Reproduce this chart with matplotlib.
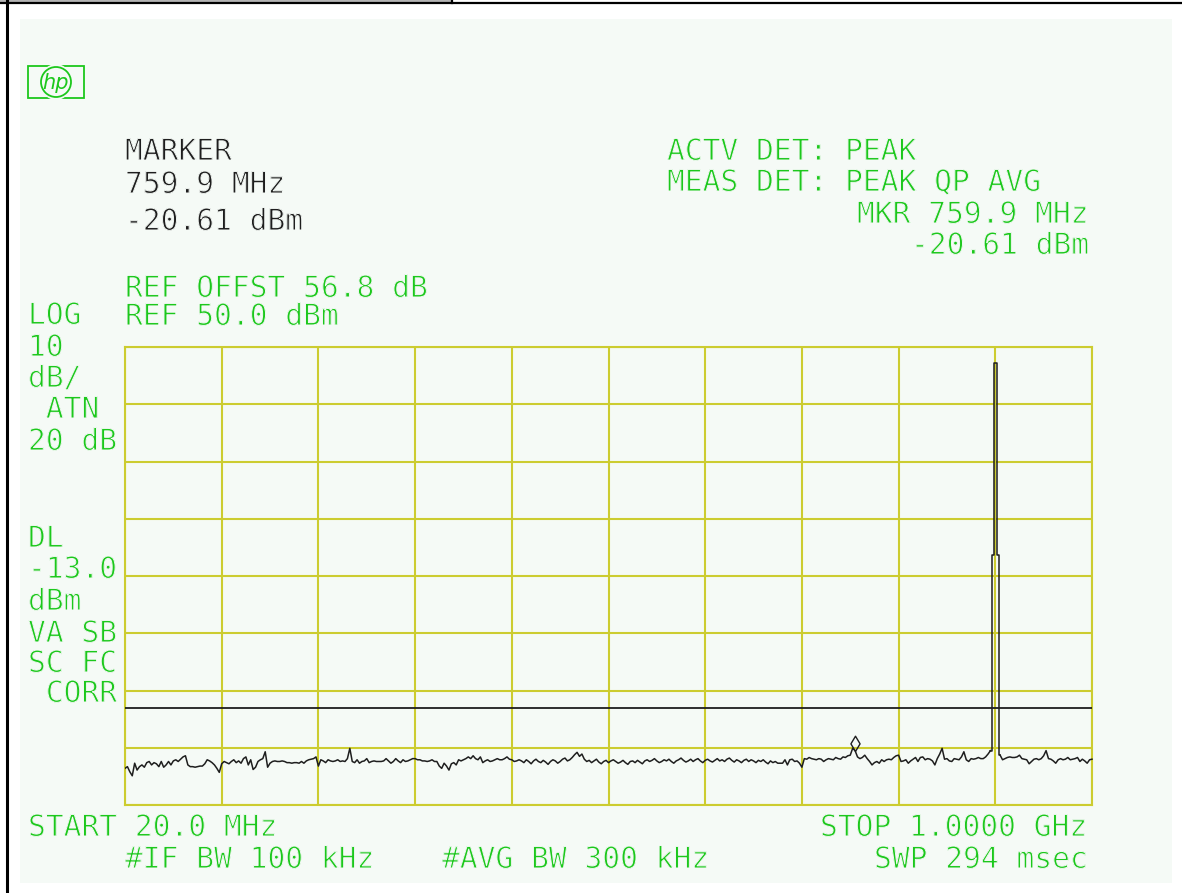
import numpy as np
import matplotlib
matplotlib.use("Agg")
import matplotlib.pyplot as plt
import matplotlib.patheffects as pe
from matplotlib.patches import Rectangle, Ellipse
from matplotlib.lines import Line2D

# analyzer settings
start_mhz = 20.0
stop_mhz = 1000.0
ref_dbm = 50.0
db_per_div = 10
display_line_dbm = -13.0
marker_mhz = 759.9
marker_dbm = -20.61

# trace, 401 points from START to STOP (dBm)
level_dbm = [
    -23.6, -23.3, -24.2, -24.9, -22.7, -23.9, -23.3, -23.0, -23.4, -22.6, -22.4, -23.0, -22.6, -22.8, -23.3, -22.4, -23.4, -23.0, -22.4, -23.0,
    -22.3, -22.1, -22.4, -22.0, -21.6, -21.4, -23.0, -23.3, -23.3, -23.4, -23.3, -23.2, -23.2, -22.8, -22.1, -22.3, -22.6, -23.0, -23.6, -24.3,
    -22.8, -22.4, -22.6, -22.8, -22.4, -22.1, -22.6, -22.3, -22.7, -21.9, -21.6, -23.0, -22.1, -23.8, -23.4, -22.4, -22.1, -21.9, -20.7, -23.4,
    -22.7, -22.4, -22.3, -22.4, -22.4, -22.3, -22.4, -22.6, -22.6, -22.7, -22.6, -22.6, -22.7, -22.4, -22.7, -22.3, -22.1, -22.0, -21.9, -21.6,
    -23.2, -22.1, -22.3, -22.6, -22.1, -22.3, -22.4, -22.3, -22.1, -22.4, -22.3, -22.4, -21.9, -20.1, -22.4, -22.6, -22.1, -22.7, -22.4, -22.3,
    -21.9, -22.6, -22.4, -22.3, -22.4, -22.4, -22.4, -22.3, -21.9, -22.3, -22.7, -22.4, -21.9, -22.3, -22.6, -22.1, -22.4, -22.3, -22.1, -21.9,
    -21.9, -22.1, -22.1, -22.3, -22.3, -22.4, -22.3, -22.1, -22.4, -22.4, -23.2, -23.6, -22.7, -23.2, -23.9, -22.8, -22.6, -23.0, -22.1, -22.3,
    -22.1, -21.9, -21.6, -21.9, -21.4, -21.9, -22.1, -21.6, -22.6, -22.3, -22.1, -22.4, -22.3, -22.1, -21.9, -22.1, -22.1, -21.9, -21.6, -22.0,
    -22.1, -22.4, -22.3, -22.1, -22.3, -22.6, -22.1, -22.4, -22.8, -22.3, -22.0, -22.4, -22.6, -22.2, -22.5, -22.9, -22.4, -22.1, -22.3, -22.7,
    -22.4, -22.0, -21.8, -22.3, -22.1, -21.7, -21.2, -20.8, -21.5, -21.1, -22.0, -22.4, -22.2, -22.6, -22.3, -22.0, -22.5, -22.8, -22.4, -22.2,
    -22.6, -22.3, -22.1, -22.4, -22.7, -22.5, -22.2, -22.6, -22.9, -22.4, -22.3, -22.6, -22.2, -22.5, -22.8, -22.3, -22.1, -22.4, -22.2, -21.9,
    -22.3, -22.6, -22.4, -22.1, -22.3, -22.0, -22.4, -22.7, -22.3, -22.1, -21.8, -22.2, -22.5, -22.3, -22.0, -22.4, -22.1, -21.9, -22.3, -22.6,
    -22.2, -22.0, -22.3, -22.5, -22.2, -21.9, -22.3, -22.1, -22.4, -22.0, -21.8, -22.2, -22.5, -22.1, -22.3, -22.6, -22.2, -22.0, -22.4, -22.1,
    -22.3, -22.6, -22.2, -22.4, -22.1, -22.5, -22.8, -22.3, -22.6, -22.4, -22.7, -22.7, -22.7, -22.1, -23.0, -22.1, -22.0, -22.4, -22.3, -22.7,
    -23.4, -21.9, -22.0, -21.7, -21.9, -22.0, -22.1, -21.9, -22.0, -22.4, -22.1, -21.9, -22.0, -22.1, -21.7, -21.9, -22.0, -21.6, -21.7, -21.4,
    -21.3, -20.1, -20.5, -21.6, -21.9, -21.7, -21.3, -21.9, -22.4, -23.0, -22.6, -22.4, -22.7, -22.1, -22.4, -22.1, -22.0, -22.1, -21.7, -21.4,
    -21.3, -22.4, -22.3, -22.1, -22.7, -22.3, -22.0, -21.7, -22.4, -21.7, -21.6, -22.1, -21.9, -22.0, -22.3, -23.0, -21.9, -21.1, -20.1, -22.0,
    -21.9, -22.3, -22.4, -21.9, -22.0, -22.1, -21.6, -20.7, -22.1, -22.4, -21.9, -22.0, -21.9, -21.7, -21.9, -21.9, -21.6, -21.1, -20.5, 13.7,
    47.2, 13.7, -21.3, -22.1, -21.9, -21.7, -21.6, -21.7, -21.7, -21.6, -21.3, -21.9, -22.0, -22.1, -22.8, -22.4, -22.0, -21.9, -22.1, -21.9,
    -21.4, -20.5, -21.9, -22.0, -22.3, -22.7, -22.1, -21.9, -22.1, -22.0, -21.7, -22.1, -22.0, -21.9, -21.7, -22.4, -22.0, -22.3, -22.7, -22.1,
    -22.0,
]

# screen annotations: (text, x px, baseline y px)
header_left = [("MARKER", 125, 160), ("759.9 MHz", 125, 193), ("-20.61 dBm", 125, 230)]
header_right = [("ACTV DET: PEAK", 667, 160), ("MEAS DET: PEAK QP AVG", 667, 191),
                ("MKR 759.9 MHz", 857, 223), ("-20.61 dBm", 911, 254)]
ref_lines = [("REF OFFST 56.8 dB", 125, 297), ("REF 50.0 dBm", 125, 325)]
side_labels = [("LOG", 324), ("10", 356), ("dB/", 387), (" ATN", 418), ("20 dB", 450),
               ("DL", 547), ("-13.0", 578), ("dBm", 610), ("VA SB", 642),
               ("SC FC", 672), (" CORR", 702)]
footer = [("START 20.0 MHz", 28, 836), ("STOP 1.0000 GHz", 820, 836),
          ("#IF BW 100 kHz", 125, 868), ("#AVG BW 300 kHz", 442, 868),
          ("SWP 294 msec", 874, 868)]

W, H = 1182, 893
BG = "#f5faf6"
GREEN = "#1cc81c"
GRID = "#cccc30"
INK = "#1e1e1e"


def fx(x):
    return x / W


def fy(y):
    return 1 - y / H


fig = plt.figure(figsize=(W / 100, H / 100), dpi=100)
fig.patch.set_facecolor("white")

# screen panel and frame
fig.patches.append(Rectangle((fx(20), fy(883)), fx(1172) - fx(20), fy(19) - fy(883),
                             transform=fig.transFigure, facecolor=BG, edgecolor="none", zorder=-5))
fig.patches.append(Rectangle((0, fy(2)), fx(452), 1 - fy(2), transform=fig.transFigure,
                             facecolor="#b4b4b4", edgecolor="none", zorder=-4))
fig.lines.append(Line2D([0, 1], [fy(2.8), fy(2.8)], transform=fig.transFigure, color="black", lw=1.6))
fig.lines.append(Line2D([fx(452), fx(452)], [fy(0), fy(3)], transform=fig.transFigure, color="black", lw=1.6))
fig.lines.append(Line2D([fx(6.5), fx(6.5)], [0, 1], transform=fig.transFigure, color="black", lw=2.2))

# hp logo
fig.patches.append(Rectangle((fx(28), fy(98)), fx(84) - fx(28), fy(66) - fy(98), transform=fig.transFigure,
                             facecolor="none", edgecolor=GREEN, lw=1.3, zorder=2))
fig.patches.append(Ellipse((fx(56), fy(82)), fx(32), fy(0) - fy(36), transform=fig.transFigure,
                           facecolor=BG, edgecolor="none", zorder=3))
fig.patches.append(Ellipse((fx(56), fy(82)), fx(30), fy(0) - fy(30), transform=fig.transFigure,
                           facecolor="none", edgecolor=GREEN, lw=1.3, zorder=3))
fig.text(fx(56), fy(83), "hp", color=GREEN, fontsize=15, fontstyle="italic", ha="center", va="center",
         family="DejaVu Sans", zorder=4)

# graticule
ax = fig.add_axes([fx(125), fy(805), fx(1092) - fx(125), fy(347) - fy(805)])
ax.set_facecolor("none")
ax.set_xlim(start_mhz, stop_mhz)
ax.set_ylim(ref_dbm - 8 * db_per_div, ref_dbm)
ax.set_xticks(np.linspace(start_mhz, stop_mhz, 11))
ax.set_yticks(np.arange(ref_dbm - 8 * db_per_div, ref_dbm + 1, db_per_div))
ax.tick_params(length=0, labelbottom=False, labelleft=False)
ax.grid(True, color=GRID, lw=1.5)
for s in ax.spines.values():
    s.set_color(GRID)
    s.set_linewidth(1.5)

freq_mhz = np.linspace(start_mhz, stop_mhz, len(level_dbm))
lev = np.array(level_dbm)
ax.axhline(display_line_dbm, color=INK, lw=1.3, zorder=3)

# noise drawn point to point, the carrier drawn as the analyzer's column bars
pk = int(np.argmax(lev))
ax.plot(freq_mhz[:pk - 1], lev[:pk - 1], color=INK, lw=1.1, zorder=4)
ax.plot(freq_mhz[pk - 2:pk + 3], lev[pk - 2:pk + 3], color=INK, lw=1.1, zorder=4, drawstyle="steps-mid")
ax.plot(freq_mhz[pk + 2:], lev[pk + 2:], color=INK, lw=1.1, zorder=4, clip_on=False)

# marker diamond sitting on the trace
diamond = [(0, 0), (0.6, 1), (0, 2), (-0.6, 1), (0, 0)]
ax.plot([marker_mhz], [marker_dbm], marker=diamond, markersize=22, markerfacecolor="none",
        markeredgecolor=INK, markeredgewidth=1.0, zorder=5)

thin = [pe.Normal(), pe.Stroke(linewidth=0.7, foreground=BG)]
FS = 21.3


def label(s, x, y, color):
    fig.text(fx(x), fy(y), s, color=color, fontsize=FS, family="DejaVu Sans Mono",
             ha="left", va="baseline", path_effects=thin)


for s, x, y in header_left:
    label(s, x, y, INK)
for s, x, y in header_right + ref_lines + footer:
    label(s, x, y, GREEN)
for s, y in side_labels:
    label(s, 28, y, GREEN)

fig.savefig("out.png", dpi=100, facecolor="white")
